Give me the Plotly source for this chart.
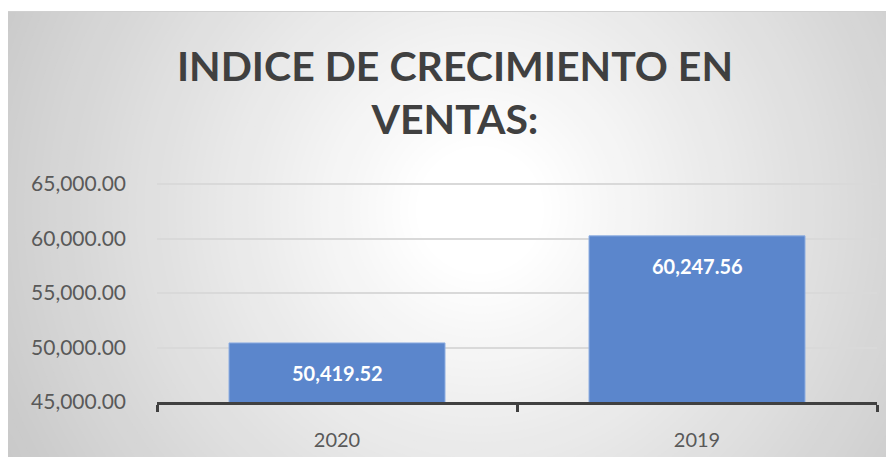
import plotly.graph_objects as go

years = ["2020", "2019"]
sales = [50419.52, 60247.56]
y_ticks = [45000, 50000, 55000, 60000, 65000]

# the page body adds an 8px margin, so the figure is drawn 8px in from the window
OFF = 8
W, H = 894 - OFF, 457 - OFF
L, R, T, B = 157 - OFF, 17, 183 - OFF, 55
pw, ph = W - L - R, H - T - B


def px_x(px):
    return (px - OFF - L) / pw


def px_y(py):
    return (H + OFF - B - py) / ph


fig = go.Figure()
fig.add_trace(go.Bar(
    x=years, y=sales,
    marker=dict(color="#5b86cc", line=dict(color="#8eaee2", width=1)),
    hoverinfo="skip",
))

# radial grey background, white in the middle
shapes = []
cx, cy = px_x(480), px_y(210)
steps = 70
rmax = 560
for i in range(steps):
    r = rmax * (1 - i / steps)
    t = min(1.0, max(0.0, (r - 60) / (rmax - 60)))
    g = int(round(255 - (255 - 198) * t))
    col = "rgb({0},{0},{0})".format(g)
    shapes.append(dict(type="circle", xref="paper", yref="paper",
                       xsizemode="pixel", ysizemode="pixel",
                       xanchor=cx, yanchor=cy,
                       x0=-r, x1=r, y0=-r, y1=r,
                       fillcolor=col, line_width=0, layer="below"))
# white margins around the frame
shapes.append(dict(type="rect", xref="paper", yref="paper",
                   x0=px_x(-5), x1=px_x(900), y0=px_y(11), y1=px_y(-5),
                   fillcolor="white", line_width=0, layer="below"))
shapes.append(dict(type="line", xref="paper", yref="paper",
                   x0=px_x(8), x1=px_x(894), y0=px_y(11.5), y1=px_y(11.5),
                   line=dict(color="#d0d0d0", width=1), layer="below"))

annotations = []
for i, v in enumerate(sales):
    annotations.append(dict(x=i, y=v, xref="x", yref="y", text="{:,.2f}".format(v),
                            showarrow=False, yshift=-30,
                            font=dict(family="Lato", size=20, color="white", weight="bold")))

fig.update_layout(
    width=W, height=H,
    margin=dict(l=L, r=R, t=T, b=B),
    paper_bgcolor="white",
    plot_bgcolor="rgba(0,0,0,0)",
    showlegend=False,
    bargap=0.4,
    shapes=shapes,
    annotations=annotations,
    title=dict(text="INDICE DE CRECIMIENTO EN<br>VENTAS:",
               x=(455 - OFF) / W, xanchor="center", y=1 - 73 / H, yanchor="middle",
               font=dict(family="Lato", size=41, color="#404040", weight="bold")),
    font=dict(family="Lato", color="#595959"),
)
fig.update_yaxes(range=[45000, 65100], tickvals=y_ticks, tickformat=",.2f",
                 showgrid=True, gridcolor="#d9d9d9", gridwidth=2, zeroline=False,
                 tickfont=dict(size=21, color="#595959"), ticklabelstandoff=30,
                 showline=False, ticks="", automargin=False)
fig.update_xaxes(type="category", range=[-0.5, 1.5], showline=True,
                 linecolor="#404040", linewidth=3,
                 ticks="outside", tickson="boundaries", ticklen=7, tickwidth=3,
                 tickcolor="#404040", tickfont=dict(size=20, color="#595959"),
                 ticklabelstandoff=18, automargin=False, tickangle=0)

fig.write_html("out.html")
